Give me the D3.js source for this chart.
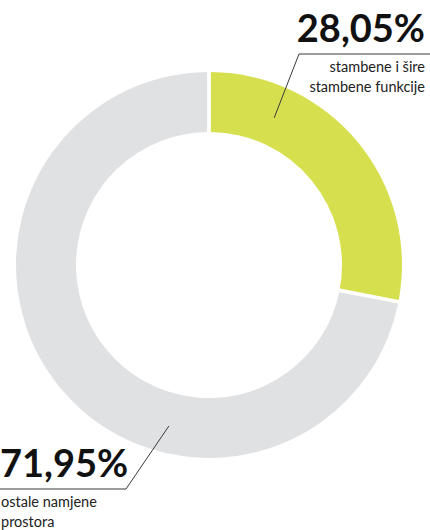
<!DOCTYPE html>
<html>
  <head>
    <style>
      html,
      body {
        margin: 0;
        padding: 0;
        background: #fff;
      }
      text {
        font-family: Lato, 'Open Sans', sans-serif;
      }
    </style>
  </head>
  <body>
    <svg id="svg" width="430" height="530"></svg>

    <script src="https://cdn.jsdelivr.net/npm/d3@7"></script>
    <script>
      const categories = ['stambene i šire stambene funkcije', 'ostale namjene prostora'];
      const values = [28.05, 71.95];
      const valueLabels = ['28,05%', '71,95%'];
      const labelLines = [
        ['stambene i šire', 'stambene funkcije'],
        ['ostale namjene', 'prostora'],
      ];
      const colors = ['#d6e04f', '#e0e1e3'];

      const data = categories.map((c, i) => ({ category: c, value: values[i] }));

      const cx = 209;
      const cy = 265;
      const outer = 193;
      const inner = 133;

      const svg = d3.select('#svg');
      const g = svg.append('g').attr('transform', `translate(${cx}, ${cy})`);

      const pie = d3
        .pie()
        .sort(null)
        .value((d) => d.value);

      const arc = d3.arc().innerRadius(inner).outerRadius(outer).padAngle(0.016);

      const slices = pie(data);

      g.selectAll('path')
        .data(slices)
        .enter()
        .append('path')
        .attr('d', arc)
        .attr('fill', (d, i) => colors[i]);

      // leader lines: point on the ring -> elbow -> horizontal rule
      const leaders = [
        { angle: 0.417, r: 161, elbow: [299, 54], end: 430, side: 'right' },
        { angle: 3.386, r: 166, elbow: [126, 489], end: 0, side: 'left' },
      ];

      leaders.forEach((l, i) => {
        const p = d3.pointRadial(l.angle, l.r);
        const pts = [[cx + p[0], cy + p[1]], l.elbow, [l.end, l.elbow[1]]];
        svg
          .append('path')
          .attr('d', d3.line()(pts))
          .attr('fill', 'none')
          .attr('stroke', '#3a3a3a')
          .attr('stroke-width', 1);

        const right = l.side === 'right';
        const x = right ? 425 : 1;
        const anchor = right ? 'end' : 'start';
        const baseY = l.elbow[1];

        svg
          .append('text')
          .attr('x', right ? 425 : 0)
          .attr('y', baseY - 12)
          .attr('text-anchor', anchor)
          .attr('font-size', 38)
          .attr('font-weight', 'bold')
          .attr('fill', '#111')
          .text(valueLabels[i]);

        labelLines[i].forEach((t, j) => {
          svg
            .append('text')
            .attr('x', x)
            .attr('y', baseY + 18 + j * 20)
            .attr('text-anchor', anchor)
            .attr('font-size', 14.5)
            .attr('fill', '#222')
            .text(t);
        });
      });
    </script>
  </body>
</html>
